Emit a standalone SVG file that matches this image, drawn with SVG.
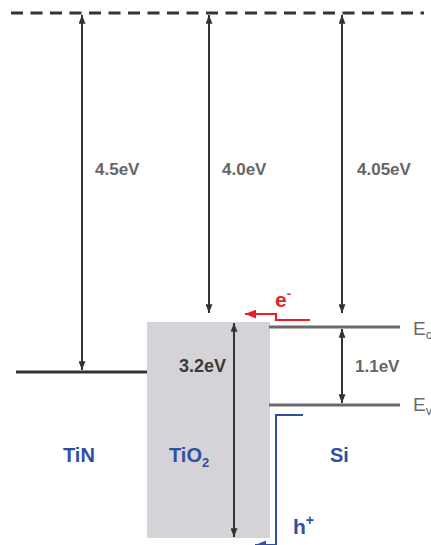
<svg xmlns="http://www.w3.org/2000/svg" width="431" height="545" viewBox="0 0 431 545">
  <defs>
    <style>
      .lbl { font-family: "Liberation Sans", Arial, sans-serif; font-weight: bold; }
      .ev { fill: #666666; font-size: 17px; }
      .mat { fill: #2f4fa2; font-size: 20px; }
      .lvl { stroke-width: 3; fill: none; }
      .band { font-family: "Liberation Sans", Arial, sans-serif; font-size: 19px; fill: #6a6a6a; }
      .arr { stroke: #333333; stroke-width: 2; fill: none; marker-start: url(#ah); marker-end: url(#ah); }
    </style>
    <marker id="ah" viewBox="0 0 10 8" refX="10" refY="4" markerWidth="9" markerHeight="7" markerUnits="userSpaceOnUse" orient="auto-start-reverse">
      <path d="M0,0 L10,4 L0,8 z" fill="#333333"/>
    </marker>
    <marker id="ahRed" viewBox="0 0 10 8" refX="10" refY="4" markerWidth="11" markerHeight="9" markerUnits="userSpaceOnUse" orient="auto">
      <path d="M0,0 L10,4 L0,8 z" fill="#e8202a"/>
    </marker>
    <marker id="ahBlue" viewBox="0 0 10 8" refX="10" refY="4" markerWidth="11" markerHeight="9" markerUnits="userSpaceOnUse" orient="auto">
      <path d="M0,0 L10,4 L0,8 z" fill="#2f4fa2"/>
    </marker>
  </defs>

  <g id="vacuum-level">
    <line x1="11" y1="13" x2="424" y2="13" stroke="#333333" stroke-width="3" stroke-dasharray="12 7.5"/>
  </g>

  <g id="TiO2">
    <rect x="147" y="322" width="123" height="216" fill="#d6d3d8"/>
    <text class="lbl mat" x="169" y="462">TiO<tspan font-size="13" dy="5">2</tspan></text>
  </g>

  <g id="TiN">
    <line class="lvl" x1="16" y1="372" x2="147" y2="372" stroke="#333333"/>
    <text class="lbl mat" x="63" y="462">TiN</text>
  </g>

  <g id="Si">
    <line class="lvl" x1="269" y1="327" x2="400" y2="327" stroke="#6a6a6a"/>
    <line class="lvl" x1="269" y1="405" x2="400" y2="405" stroke="#6a6a6a"/>
    <text class="lbl mat" x="330" y="462">Si</text>
    <text class="band" x="413" y="335">E<tspan font-size="13" dy="4">c</tspan></text>
    <text class="band" x="413" y="411">E<tspan font-size="13" dy="4">v</tspan></text>
  </g>

  <g id="carriers">
    <text class="lbl" x="275" y="307" font-size="21" fill="#e8202a">e<tspan font-size="13" dy="-9">-</tspan></text>
    <text class="lbl" x="293" y="534" font-size="21" fill="#2f4fa2">h<tspan font-size="14" dy="-9">+</tspan></text>
  </g>

  <g id="connectors">
    <line class="arr" x1="82" y1="15" x2="82" y2="370"/>
    <line class="arr" x1="209" y1="15" x2="209" y2="313"/>
    <line class="arr" x1="342" y1="15" x2="342" y2="313"/>
    <line class="arr" x1="342" y1="329" x2="342" y2="403"/>
    <line class="arr" x1="234" y1="323" x2="234" y2="537"/>
    <path d="M310,320 H276 V314 H245" stroke="#e8202a" stroke-width="2.2" fill="none" marker-end="url(#ahRed)"/>
    <path d="M303,415 H276 V545 H255" stroke="#2f4fa2" stroke-width="2" fill="none" marker-end="url(#ahBlue)"/>
  </g>

  <g id="labels">
    <text class="lbl ev" x="95" y="175">4.5eV</text>
    <text class="lbl ev" x="222" y="175">4.0eV</text>
    <text class="lbl ev" x="357" y="175">4.05eV</text>
    <text class="lbl" x="179" y="372" font-size="18" fill="#3a3a3a">3.2eV</text>
    <text class="lbl ev" x="355" y="372" font-size="16.5">1.1eV</text>
  </g>
</svg>
